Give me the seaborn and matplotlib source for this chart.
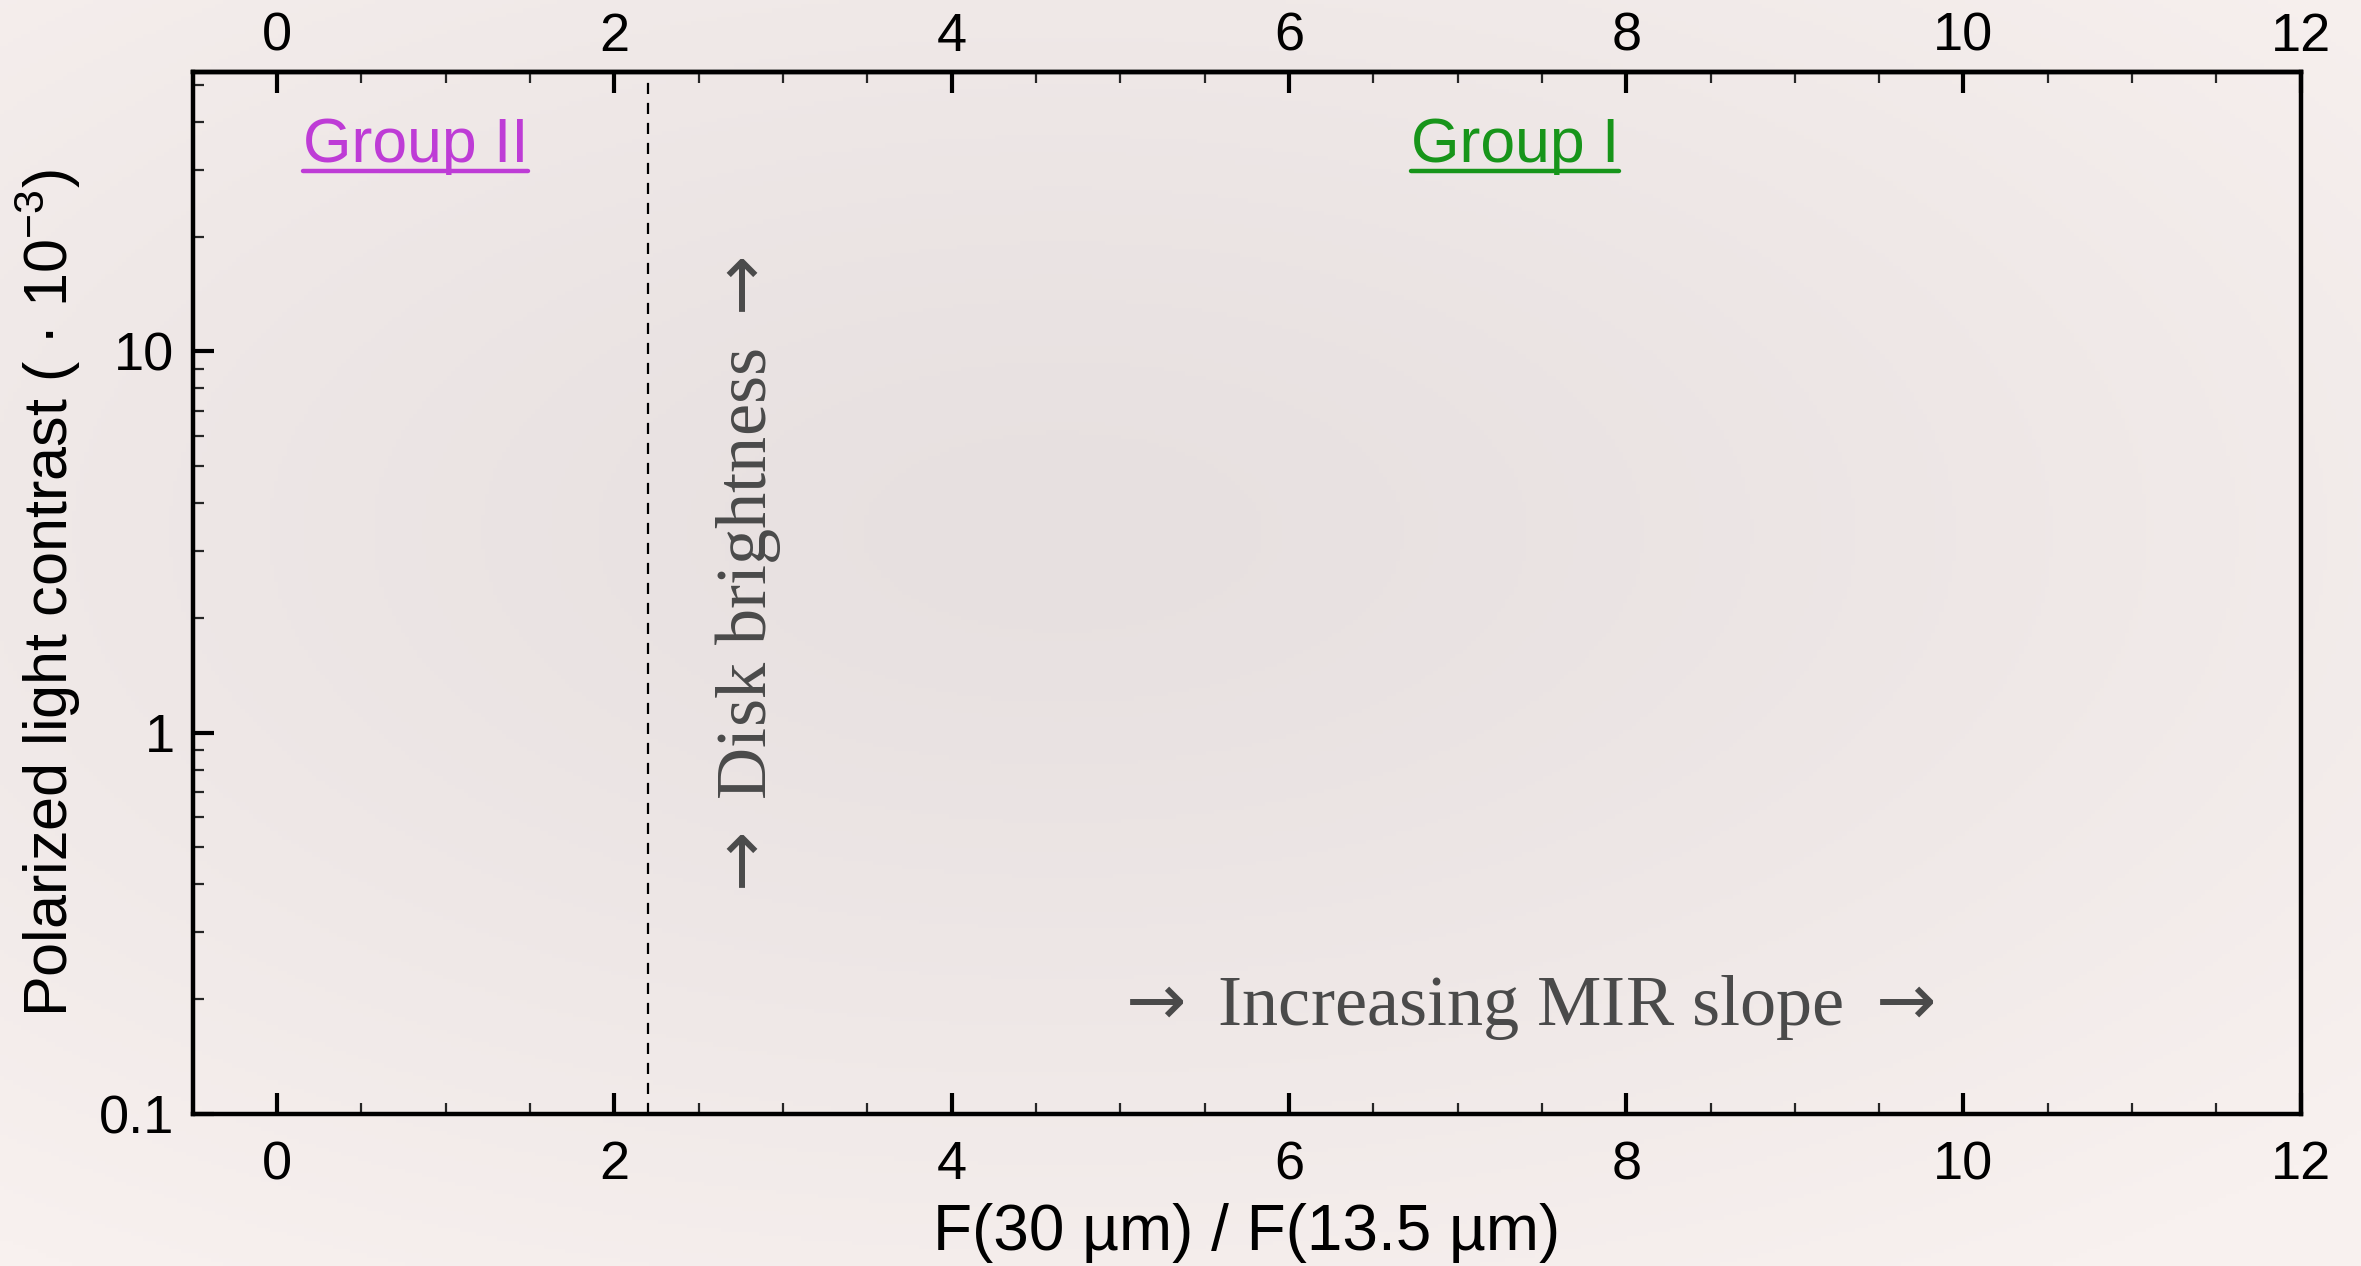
import numpy as np
import matplotlib
matplotlib.use("Agg")
import matplotlib.pyplot as plt
import seaborn as sns
from matplotlib.ticker import FixedLocator, FixedFormatter, MultipleLocator, NullLocator
from matplotlib.lines import Line2D

# ---- data ----
x_limits = [-0.5, 12]
y_limits = [0.1, 54]
x_major_ticks = [0, 2, 4, 6, 8, 10, 12]
x_tick_labels = ["0", "2", "4", "6", "8", "10", "12"]
y_major_ticks = [0.1, 1, 10]
y_tick_labels = ["0.1", "1", "10"]
divider_x = 2.2
group_labels = ["Group II", "Group I"]
group_x = [0.82, 7.34]
group_y = [31.5, 31.5]
group_colors = ["#BE3CD6", "#17951A"]
xlabel_text = "F(30 µm) / F(13.5 µm)"
ylabel_text = "Polarized light contrast ( · 10$^{-3}$)"
mir_text = r"$\rightarrow$ Increasing MIR slope $\rightarrow$"
disk_text = r"$\rightarrow$ Disk brightness $\rightarrow$"

sns.set_theme(style="ticks")
plt.rcParams["font.family"] = ["Liberation Sans", "DejaVu Sans"]
plt.rcParams["mathtext.fontset"] = "custom"
plt.rcParams["mathtext.rm"] = "Liberation Sans"

fig = plt.figure(figsize=(23.61, 12.66), dpi=100)
fig.patch.set_facecolor("#F4EDEB")

# background vignette
bg = fig.add_axes([0, 0, 1, 1], zorder=-10)
yy, xx = np.mgrid[0:1:300j, 0:1:560j]
r = np.sqrt(((xx - 0.45) / 0.75) ** 2 + ((yy - 0.58) / 0.7) ** 2)
r = np.clip(r, 0, 1)
c_in = np.array([231, 224, 224]) / 255.0
c_out = np.array([248, 241, 239]) / 255.0
img = c_in[None, None, :] + (c_out - c_in)[None, None, :] * (r[..., None] ** 1.3)
bg.imshow(img, aspect="auto", extent=[0, 1, 0, 1], origin="lower")
bg.set_axis_off()

ax = fig.add_axes([0.0816, 0.1201, 0.8929, 0.8228])
ax.set_facecolor("none")
ax.set_yscale("log")
ax.set_xlim(*x_limits)
ax.set_ylim(*y_limits)

ax.axvline(divider_x, color="black", linewidth=1.6, linestyle=(0, (5, 4)))

for s in ax.spines.values():
    s.set_linewidth(3.2)
    s.set_color("black")

ax.xaxis.set_major_locator(FixedLocator(x_major_ticks))
ax.xaxis.set_major_formatter(FixedFormatter(x_tick_labels))
ax.xaxis.set_minor_locator(MultipleLocator(0.5))
minor_y = [m * 10.0 ** e for e in (-1, 0, 1) for m in range(2, 10) if m * 10.0 ** e <= y_limits[1]]
ax.yaxis.set_major_locator(FixedLocator(y_major_ticks))
ax.yaxis.set_major_formatter(FixedFormatter(y_tick_labels))
ax.yaxis.set_minor_locator(FixedLocator(minor_y))
ax.yaxis.set_minor_formatter(FixedFormatter([""] * len(minor_y)))

ax.tick_params(axis="x", which="major", direction="in", length=15, width=3,
               top=True, bottom=True, labeltop=False, labelbottom=True,
               labelsize=39, pad=19, colors="black")
ax.tick_params(axis="x", which="minor", direction="in", length=8, width=1.6,
               top=True, bottom=True)
ax.tick_params(axis="y", which="major", direction="in", length=15, width=3,
               left=True, right=False, labelsize=39, pad=13, colors="black")
ax.tick_params(axis="y", which="minor", direction="in", length=8, width=1.6,
               left=True, right=False)

# top tick labels
sec = ax.secondary_xaxis("top")
sec.xaxis.set_major_locator(FixedLocator(x_major_ticks))
sec.xaxis.set_major_formatter(FixedFormatter(x_tick_labels))
sec.xaxis.set_minor_locator(NullLocator())
sec.tick_params(axis="x", which="major", length=0, labelsize=39, pad=7.5, colors="black")
sec.spines["top"].set_linewidth(3.2)
sec.spines["top"].set_color("black")

ax.set_xlabel(xlabel_text, fontsize=46, labelpad=9, color="black")
ax.set_ylabel(ylabel_text, fontsize=44, labelpad=12, color="black")

serif = ["Liberation Serif", "DejaVu Serif"]
ax.text(7.39, 0.19, mir_text, fontsize=52, family=serif, color="#4a4a4a",
        ha="center", va="center", math_fontfamily="dejavusans")
ax.text(2.79, 2.5, disk_text, fontsize=52, family=serif, color="#4a4a4a",
        ha="center", va="center", rotation=90, math_fontfamily="dejavusans")

texts = []
for lab, gx, gy, col in zip(group_labels, group_x, group_y, group_colors):
    t = ax.text(gx, gy, lab, fontsize=45, color=col, ha="center", va="baseline")
    texts.append((t, col))

fig.canvas.draw()
renderer = fig.canvas.get_renderer()
inv = fig.transFigure.inverted()
for t, col in texts:
    bb = t.get_window_extent(renderer)
    base = ax.transData.transform((0, t.get_position()[1]))[1]
    yline = base - 9
    (x0, y0) = inv.transform((bb.x0, yline))
    (x1, _) = inv.transform((bb.x1, yline))
    fig.add_artist(Line2D([x0, x1], [y0, y0], transform=fig.transFigure,
                          color=col, linewidth=3.2))

fig.savefig("out.png", dpi=100, facecolor=fig.get_facecolor())
